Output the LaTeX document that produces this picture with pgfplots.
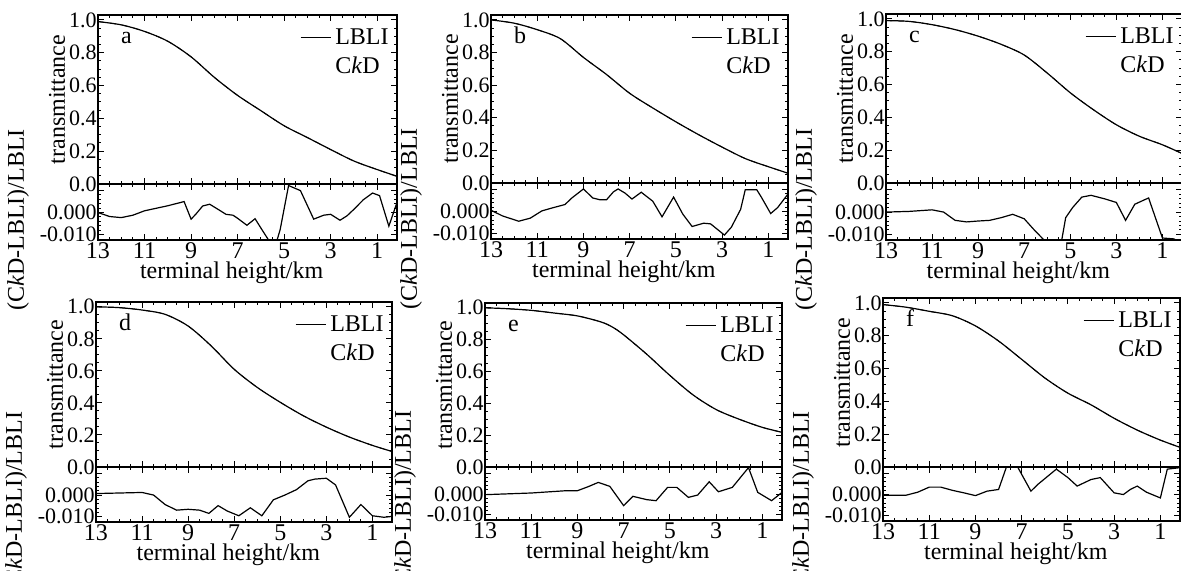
\documentclass[border=0pt]{standalone}
\usepackage{fontspec}
\setmainfont{Liberation Serif}
\usepackage{pgfplots}
\usepackage{pgfplotstable}
\pgfplotsset{compat=1.18}

%% transmittance curves (h in km, t)
\pgfplotstableread{
h t
13 0.99
12 0.97
11 0.93
10 0.87
9 0.775
8 0.65
7 0.54
6 0.447
5 0.355
4 0.283
3 0.21
2 0.14
1 0.088
0.15 0.047
}\upA
\pgfplotstableread{
h t
13 1.0
12 0.98
11 0.94
10 0.885
9 0.77
8 0.665
7 0.55
6 0.46
5 0.375
4 0.295
3 0.22
2 0.15
1 0.10
0.15 0.06
}\upB
\pgfplotstableread{
h t
13 0.99
12 0.985
11 0.965
10 0.935
9 0.895
8 0.845
7 0.78
6 0.67
5 0.55
4 0.447
3 0.355
2 0.285
1 0.233
0.15 0.18
}\upC
\pgfplotstableread{
h t
13 1.0
12 0.995
11 0.98
10 0.953
9 0.88
8 0.756
7 0.61
6 0.497
5 0.404
4 0.32
3 0.249
2 0.187
1 0.135
0.15 0.097
}\upD
\pgfplotstableread{
h t
13 1.0
12 0.994
11 0.984
10 0.967
9 0.949
8 0.912
7.5 0.88
7 0.83
6 0.708
5 0.575
4 0.453
3 0.361
2 0.30
1 0.249
0.15 0.218
}\upE
\pgfplotstableread{
h t
13 0.99
12 0.974
11 0.949
10 0.922
9 0.86
8 0.768
7 0.656
6 0.543
5 0.45
4 0.379
3 0.297
2 0.225
1 0.164
0.15 0.12
}\upF

%% relative difference (CkD-LBLI)/LBLI
\pgfplotstableread{
h d
13 0.0000
12.5 -0.0018
12 -0.0023
11.5 -0.0012
11 0.0008
10 0.0031
9.3 0.0050
9.0 -0.0030
8.8 -0.0008
8.5 0.0030
8.2 0.0038
7.8 0.0012
7.5 -0.0008
7.2 -0.0012
7.0 -0.0026
6.6 -0.0058
6.25 -0.0028
5.96 -0.0077
5.67 -0.0125
5.4 -0.0160
5.17 -0.0077
4.81 0.0123
4.3 0.0100
3.73 -0.0030
3.3 -0.0012
3.0 -0.0008
2.6 -0.0035
2.3 -0.0015
2.0 0.0015
1.6 0.0058
1.2 0.0089
0.9 0.0077
0.5 -0.0062
0.15 0.0046
}\loA
\pgfplotstableread{
h d
13 0.0006
12.5 -0.0020
11.8 -0.0044
11.3 -0.0030
10.8 0.0003
10.3 0.0018
9.8 0.0032
9.5 0.0062
9.0 0.0103
8.6 0.0062
8.3 0.0054
8.0 0.0054
7.7 0.0090
7.5 0.0103
7.2 0.0084
6.9 0.0057
6.5 0.0088
6.0 0.0047
5.6 -0.0024
5.1 0.0066
4.7 -0.0012
4.3 -0.0068
3.8 -0.0053
3.5 -0.0056
2.9 -0.0107
2.6 -0.0071
2.2 0.0010
2.0 0.0099
1.5 0.0099
1.3 0.0065
0.9 -0.0009
0.6 0.0018
0.15 0.0080
}\loB
\pgfplotstableread{
h d
13 0.0000
12 0.0003
11 0.0010
10.5 0.0000
10 -0.0037
9.5 -0.0044
9 -0.0040
8.5 -0.0037
8 -0.0025
7.5 -0.0010
7 -0.0030
6.6 -0.0076
6.3 -0.0108
6.0 -0.0140
5.5 -0.0200
5.2 -0.0025
4.9 0.0020
4.5 0.0067
4.1 0.0075
3.5 0.0059
3.0 0.0043
2.6 -0.0037
2.2 0.0035
1.8 0.0054
1.6 0.0063
1.0 -0.0116
0.5 -0.0120
0.15 -0.0140
}\loC
\pgfplotstableread{
h d
13 0.0007
11 0.0012
10.5 0.0000
10 -0.0044
9.5 -0.0070
9 -0.0066
8.5 -0.0070
8.1 -0.0085
7.7 -0.0049
7.3 -0.0074
6.8 -0.0096
6.3 -0.0059
5.8 -0.0096
5.3 -0.0022
4.8 0.0000
4.3 0.0025
3.8 0.0066
3.5 0.0074
3.0 0.0078
2.6 0.0047
2.0 -0.0103
1.5 -0.0044
1.0 -0.0096
0.5 -0.0103
0.15 -0.0099
}\loD
\pgfplotstableread{
h d
13 -0.0003
11 0.0005
9.5 0.0016
9 0.0016
8.5 0.0037
8.1 0.0056
7.6 0.0037
7.0 -0.0056
6.6 -0.0011
6.0 -0.0027
5.6 -0.0032
5.1 0.0032
4.7 0.0032
4.2 -0.0016
3.8 -0.0005
3.3 0.0059
2.9 0.0011
2.3 0.0032
1.6 0.0127
1.2 0.0008
0.6 -0.0032
0.15 0.0008
}\loE
\pgfplotstableread{
h d
13 -0.0003
12 -0.0003
11.5 0.0011
11 0.0035
10.5 0.0035
10 0.0020
9.5 0.0008
9 -0.0005
8.5 0.0016
8.0 0.0024
7.5 0.0180
7.2 0.0135
6.6 0.0016
6.3 0.0048
5.5 0.0120
5.0 0.0080
4.6 0.0040
4.0 0.0071
3.6 0.0080
3.0 0.0008
2.6 0.0000
2.3 0.0024
2.0 0.0040
1.6 0.0011
1.0 -0.0016
0.7 0.0120
0.15 0.0127
}\loF

\pgfplotsset{
  every axis/.append style={font=\fontsize{12}{14}\selectfont},
  panel/.style={
    scale only axis, x dir=reverse, xmin=0.15, xmax=13,
    xtick={13,11,9,7,5,3,1}, minor x tick num=3,
    tick align=inside, major tick length=3pt, minor tick length=1.5pt,
    axis line style={line width=0.8pt}, every tick/.style={black, line width=0.5pt},
    scaled y ticks=false,
    yticklabel style={font=\fontsize{11}{13}\selectfont, inner xsep=0.5pt},
    xticklabel style={font=\fontsize{12}{14}\selectfont, inner ysep=1pt},
  },
  upper/.style={panel, ymin=0, ymax=1.03, xticklabels={},
    ytick={0,0.2,0.4,0.6,0.8,1}, yticklabels={0.0,0.2,0.4,0.6,0.8,1.0},
    minor y tick num=3,
    ylabel={transmittance},
    ylabel style={at={([xshift=-20.5pt]axis description cs:0,0.5)}, anchor=center},
    legend style={draw=none, fill=none, at={(rel axis cs:1,1)}, anchor=north east,
      xshift=-3pt, yshift=-5.5pt, inner sep=0pt, row sep=3pt, column sep=1pt,
      font=\fontsize{12}{14}\selectfont, nodes={inner sep=1pt}},
    legend cell align=left,
    legend image code/.code={\draw[##1] (0pt,0pt) -- (15pt,0pt);},
  },
  lower/.style={panel, ymin=-0.0125, ymax=0.013,
    xticklabels={13,11,9,7,5,3,1},
    ytick={-0.01,0,0.01}, yticklabels={-0.010,0.000,{}}, minor y tick num=4,
    xlabel={terminal height/km},
    xlabel style={at={([yshift=-16.5pt]axis description cs:0.447,0)}, anchor=center},
    ylabel={(C\textit{k}D-LBLI)/LBLI},
    ylabel style={at={([xshift=-40pt, yshift=-4pt]axis description cs:0,0.5)}, anchor=center},
  },
  tcurve/.style={black, line width=0.6pt},
  ccurve/.style={black, line width=0.4pt, dashed, forget plot},
}

\newcommand{\panel}[8]{%
  % #1 x, #2 y top, #3 width, #4 upper height, #5 lower height, #6 letter, #7 upper table, #8 lower table
  \begin{axis}[upper, at={(#1pt,-#2pt)}, anchor=north west, width=#3pt, height=#4pt]
    \addplot[tcurve, smooth] table[x=h, y=t] {#7};
    \addlegendentry{LBLI}
    \addplot[ccurve, smooth] table[x=h, y=t] {#7};
    \addlegendimage{empty legend}
    \addlegendentry{C\textit{k}D}
    \node[anchor=base west, font=\fontsize{12}{14}\selectfont] at ([xshift=8pt, yshift=-14pt]rel axis cs:0,1) {#6};
  \end{axis}
  \begin{axis}[lower, at={(#1pt,-#2pt-#4pt)}, anchor=north west, width=#3pt, height=#5pt]
    \addplot[tcurve] table[x=h, y=d] {#8};
  \end{axis}
}

\begin{document}
\begin{tikzpicture}
  \panel{49}{7.5}{149.5}{84.5}{28}{a}{\upA}{\loA}
  \panel{245.5}{7.5}{148.5}{84}{28}{b}{\upB}{\loB}
  \panel{443}{7}{148}{84.5}{28.5}{c}{\upC}{\loC}
  \panel{48}{151}{148}{82.5}{27.5}{d}{\upD}{\loD}
  \panel{242.5}{151.5}{148.5}{82}{26.5}{e}{\upE}{\loE}
  \panel{441.5}{149}{148.5}{84.5}{27}{f}{\upF}{\loF}
  \pgfresetboundingbox
  \useasboundingbox (0,0) rectangle (590.5pt,-285pt);
\end{tikzpicture}
\end{document}
